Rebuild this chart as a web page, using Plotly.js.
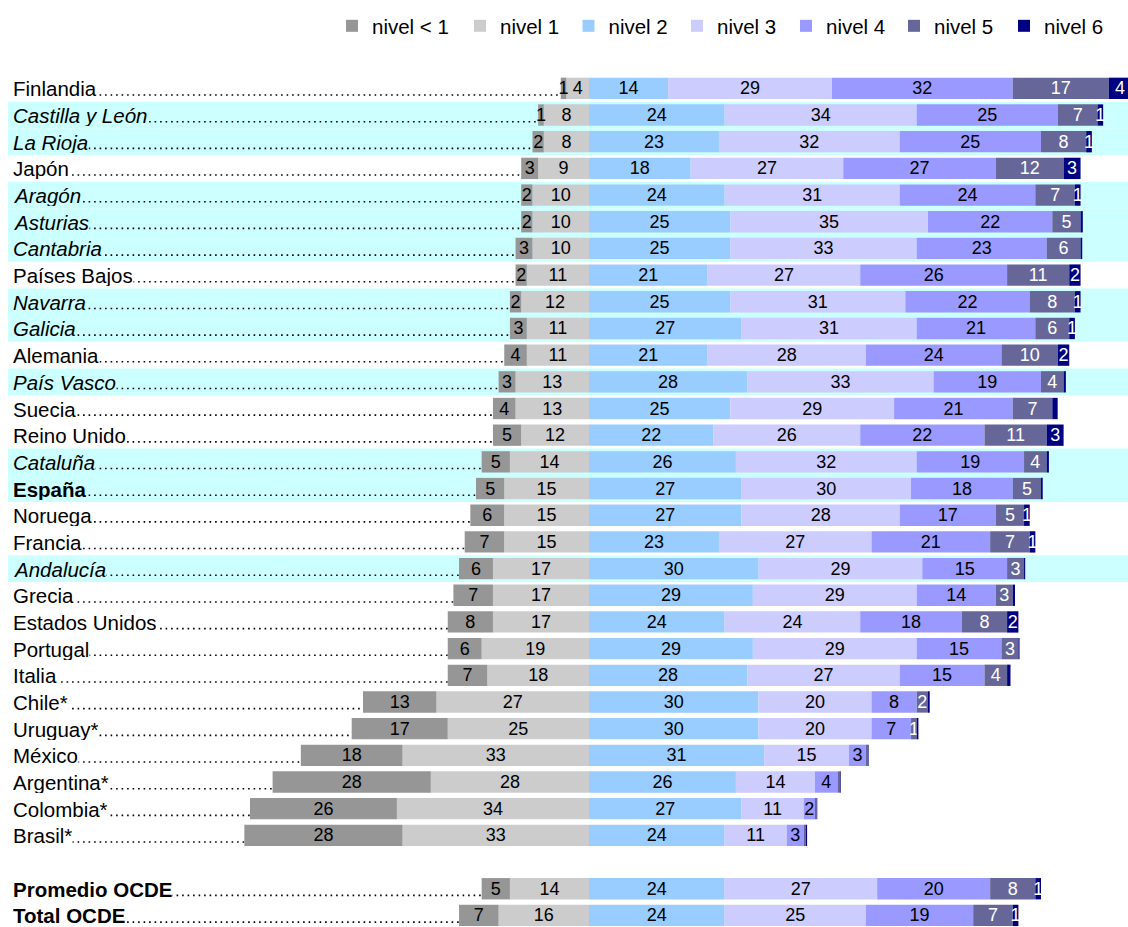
<!DOCTYPE html>
<html><head><meta charset="utf-8">
<script src="https://cdn.plot.ly/plotly-3.0.1.min.js"></script>
<style>html,body{margin:0;padding:0;background:#fff}#chart{width:1128px;height:927px}</style>
</head><body><div id="chart"></div>
<script>
// ---- data ----
const countries = ['Finlandia','Castilla y León','La Rioja','Japón','Aragón','Asturias','Cantabria','Países Bajos','Navarra','Galicia','Alemania','País Vasco','Suecia','Reino Unido','Cataluña','España','Noruega','Francia','Andalucía','Grecia','Estados Unidos','Portugal','Italia','Chile*','Uruguay*','México','Argentina*','Colombia*','Brasil*','','Promedio OCDE','Total OCDE'];
const nivelMenos1 = [1,1,2,3,2,2,3,2,2,3,4,3,4,5,5,5,6,7,6,7,8,6,7,13,17,18,28,26,28,null,5,7];
const nivel1 = [4,8,8,9,10,10,10,11,12,11,11,13,13,12,14,15,15,15,17,17,17,19,18,27,25,33,28,34,33,null,14,16];
const nivel2 = [14,24,23,18,24,25,25,21,25,27,21,28,25,22,26,27,27,23,30,29,24,29,28,30,30,31,26,27,24,null,24,24];
const nivel3 = [29,34,32,27,31,35,33,27,31,31,28,33,29,26,32,30,28,27,29,29,24,29,27,20,20,15,14,11,11,null,27,25];
const nivel4 = [32,25,25,27,24,22,23,26,22,21,24,19,21,22,19,18,17,21,15,14,18,15,15,8,7,3,4,2,3,null,20,19];
const nivel5 = [17,7,8,12,7,5,6,11,8,6,10,4,7,11,4,5,5,7,3,3,8,3,4,2,1,0.4,0.5,0.3,0.4,null,8,7];
const nivel6 = [4,1,1,3,1,0.4,0.3,2,1,1,2,0.4,0.95,3,0.4,0.3,1,1,0.2,0.4,2,0.2,0.6,0.3,0.3,0.1,0.1,0.1,0.2,null,1,1];
const levelNames = ['nivel < 1','nivel 1','nivel 2','nivel 3','nivel 4','nivel 5','nivel 6'];
const spanishRegions = ['Castilla y León','La Rioja','Aragón','Asturias','Cantabria','Navarra','Galicia','País Vasco','Cataluña','Andalucía'];
const boldRows = ['España','Promedio OCDE','Total OCDE'];
const highlightedRows = spanishRegions.concat(['España']);

// ---- styles ----
const colors = ['#969696','#cccccc','#99ccff','#ccccff','#9999ff','#666699','#000080'];
const textColors = ['#000','#000','#000','#000','#000','#fff','#fff'];
const legendWidths = [83,63.5,63.5,64,63,65,64];
const FONT = 'Liberation Sans, Arial, sans-serif';
const yPos = countries.map((c,i)=>i);
const lbl = v => (v === null || v < 1) ? '' : String(Math.round(v));

function barTrace(vals, idx, negative){
  return {
    type:'bar', orientation:'h', name: levelNames[idx], legendrank: idx+1, legendwidth: legendWidths[idx],
    y: yPos, x: vals.map(v => v === null ? null : (negative ? -v : v)),
    text: vals.map(lbl), textposition:'inside', insidetextanchor:'middle', textangle:0,
    textfont:{family:FONT, size:18, color:textColors[idx]},
    marker:{color:colors[idx], line:{width:0}}, hoverinfo:'skip'
  };
}
const traces = [
  barTrace(nivel1,1,true), barTrace(nivelMenos1,0,true),
  barTrace(nivel2,2,false), barTrace(nivel3,3,false), barTrace(nivel4,4,false),
  barTrace(nivel5,5,false), barTrace(nivel6,6,false)
];

const W = 1128, H = 927, TOP = 75, zeroPx = 589, pxPerUnit = 5.65, rowPitch = 26.68;
const xr = [-zeroPx/pxPerUnit, (W-zeroPx)/pxPerUnit];
const yr = [(H-TOP)/rowPitch - 0.5, -0.5];

const shapes = [], annotations = [];
countries.forEach((c,i)=>{
  if(!c) return;
  if(highlightedRows.includes(c)) shapes.push({type:'rect', xref:'paper', yref:'y', x0:8/W, x1:1, y0:i-0.5, y1:i+0.5, fillcolor:'#ccffff', line:{width:0}, layer:'below'});
});
countries.forEach((c,i)=>{
  if(!c) return;
  const hl = highlightedRows.includes(c);
  shapes.push({type:'line', xref:'x', yref:'y', x0:xr[0]+4, x1:-(nivelMenos1[i]+nivel1[i]), y0:i+0.25, y1:i+0.25,
    line:{color:'#000', width:1.6, dash:'1.6px,3.9px'}, layer:'below'});
  let t = c;
  if(spanishRegions.includes(c)) t = '<i>'+c+'</i>';
  if(boldRows.includes(c)) t = '<b>'+c+'</b>';
  annotations.push({xref:'paper', yref:'y', x:12/W, y:i, xanchor:'left', yanchor:'middle', text:t, showarrow:false,
    font:{family:FONT, size:20.5, color:'#000'}, bgcolor: hl ? '#ccffff' : '#ffffff', borderpad:0, height:22});
});

const layout = {
  width:W, height:H, margin:{l:0, r:0, t:TOP, b:0},
  paper_bgcolor:'#fff', plot_bgcolor:'rgba(0,0,0,0)',
  barmode:'relative', bargap:0.2,
  xaxis:{range:xr, visible:false, fixedrange:true},
  yaxis:{range:yr, visible:false, fixedrange:true},
  showlegend:true,
  legend:{orientation:'h', x:332/W, xanchor:'left', y:(H-26)/(H-TOP), yanchor:'middle',
    font:{family:FONT, size:20.5, color:'#000'}, bgcolor:'rgba(0,0,0,0)', traceorder:'normal'},
  shapes, annotations,
  uniformtext:{mode:'show', minsize:18},
  font:{family:FONT}
};
Plotly.newPlot('chart', traces, layout, {staticPlot:true, displayModeBar:false});
</script></body></html>
